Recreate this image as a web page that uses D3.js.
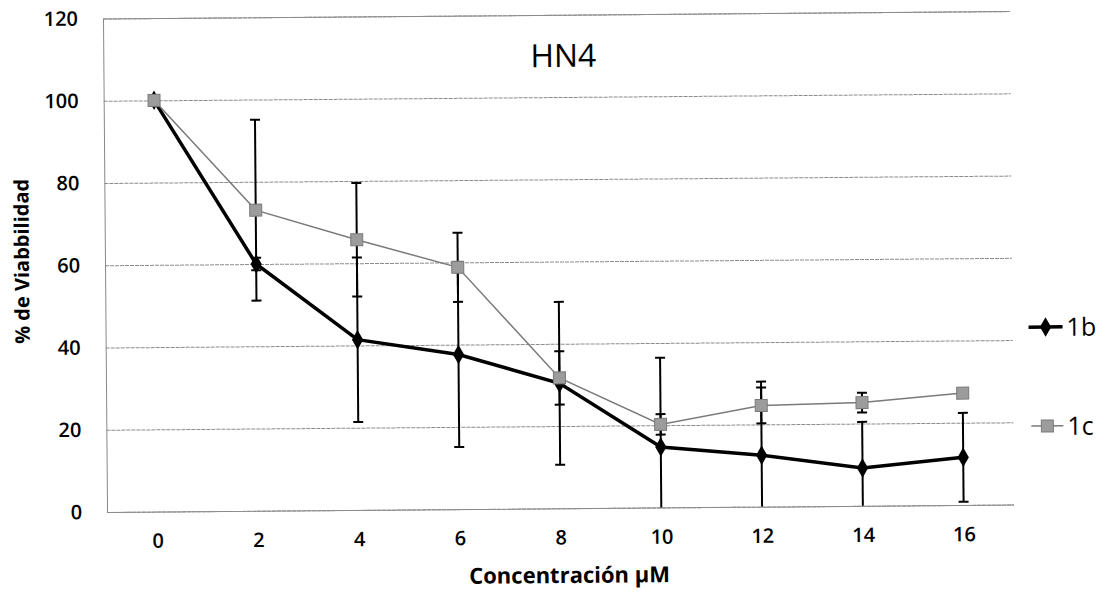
<!DOCTYPE html>
<html>
<head>
<meta charset="utf-8">
<script src="https://cdn.jsdelivr.net/npm/d3@7"></script>
<style>
  body { margin: 0; background: #fff; }
  text { font-family: "Open Sans", sans-serif; fill: #000; }
</style>
</head>
<body>
<svg id="chart" width="1106" height="595"></svg>
<script>
// values
var concentrations = ["0", "2", "4", "6", "8", "10", "12", "14", "16"];
var yTicks = [0, 20, 40, 60, 80, 100, 120];

var viab1b = [100, 60, 41.4, 37.6, 30.4, 14.7, 12.5, 9.2, 11.6];
var err1b  = [0, 1.5, 20, 22.5, 19.8, 21.7, 17.9, 11.2, 10.8];

var viab1c = [100, 73.1, 65.7, 58.8, 31.7, 20.2, 24.6, 25.1, 27.2];
var err1c  = [0, 22, 13.8, 8.4, 6.5, 2.5, 4.35, 2.4, 0.6];

var seriesNames = ["1b", "1c"];

var svg = d3.select("#chart");

// the scan is tilted a little, so the whole chart is rotated
var g = svg.append("g")
    .attr("transform", "rotate(-0.47, 557, 262)");

var plotLeft = 105, plotRight = 1012, plotTop = 14.8, plotBottom = 508.3;

var x = d3.scalePoint()
    .domain(concentrations)
    .range([plotLeft, plotRight])
    .padding(0.5);

var y = d3.scaleLinear()
    .domain([0, 120])
    .range([plotBottom, plotTop]);

// gridlines
var yAxis = d3.axisLeft(y)
    .tickValues(yTicks)
    .tickSize(-(plotRight - plotLeft))
    .tickPadding(25);

var ya = g.append("g")
    .attr("transform", "translate(" + plotLeft + ",0)")
    .call(yAxis);
ya.select(".domain")
    .attr("stroke", "#888")
    .attr("stroke-width", 1);
ya.selectAll(".tick line")
    .attr("stroke", "#8c8c8c")
    .attr("stroke-width", 1)
    .attr("stroke-dasharray", "4,1");
ya.selectAll(".tick text")
    .attr("font-size", 20)
    .attr("font-weight", 600)
    .attr("font-family", "Open Sans");

var xAxis = d3.axisBottom(x).tickSize(0).tickPadding(22);
var xa = g.append("g")
    .attr("transform", "translate(0," + plotBottom + ")")
    .call(xAxis);
xa.select(".domain").remove();
xa.selectAll(".tick text")
    .attr("font-size", 20)
    .attr("font-weight", 600)
    .attr("font-family", "Open Sans");

// titles
g.append("text")
    .attr("x", 565)
    .attr("y", 67)
    .attr("text-anchor", "middle")
    .attr("font-size", 32)
    .text("HN4");

g.append("text")
    .attr("x", 567)
    .attr("y", 583)
    .attr("text-anchor", "middle")
    .attr("font-size", 22)
    .attr("font-weight", "bold")
    .text("Concentración µM");

g.append("text")
    .attr("transform", "translate(29,257) rotate(-90)")
    .attr("text-anchor", "middle")
    .attr("font-size", 20)
    .attr("font-weight", "bold")
    .text("% de Viabbilidad");

var line = d3.line()
    .x(function(d, i) { return x(concentrations[i]); })
    .y(function(d) { return y(d); });

function errorBars(vals, errs) {
  var eb = g.append("g");
  vals.forEach(function(v, i) {
    if (errs[i] <= 0) return;
    var cx = x(concentrations[i]);
    var hi = Math.min(120, v + errs[i]);
    var lo = Math.max(0, v - errs[i]);
    eb.append("line")
        .attr("x1", cx).attr("x2", cx)
        .attr("y1", y(hi)).attr("y2", y(lo))
        .attr("stroke", "#000").attr("stroke-width", 2);
    eb.append("line")
        .attr("x1", cx - 5).attr("x2", cx + 5)
        .attr("y1", y(hi)).attr("y2", y(hi))
        .attr("stroke", "#000").attr("stroke-width", 2);
    if (v - errs[i] >= 0) {
      eb.append("line")
          .attr("x1", cx - 5).attr("x2", cx + 5)
          .attr("y1", y(lo)).attr("y2", y(lo))
          .attr("stroke", "#000").attr("stroke-width", 2);
    }
  });
}

// series 1b
errorBars(viab1b, err1b);
g.append("path")
    .datum(viab1b)
    .attr("d", line)
    .attr("fill", "none")
    .attr("stroke", "#000")
    .attr("stroke-width", 3.5);

var diamond = d3.symbol().type(d3.symbolDiamond).size(110);
g.selectAll(".m1b")
    .data(viab1b)
    .enter()
    .append("path")
    .attr("class", "m1b")
    .attr("transform", function(d, i) {
      return "translate(" + x(concentrations[i]) + "," + y(d) + ")";
    })
    .attr("d", diamond)
    .attr("fill", "#000");

// series 1c
errorBars(viab1c, err1c);
g.append("path")
    .datum(viab1c)
    .attr("d", line)
    .attr("fill", "none")
    .attr("stroke", "#7a7a7a")
    .attr("stroke-width", 1.5);

g.selectAll(".m1c")
    .data(viab1c)
    .enter()
    .append("rect")
    .attr("class", "m1c")
    .attr("x", function(d, i) { return x(concentrations[i]) - 6; })
    .attr("y", function(d) { return y(d) - 6; })
    .attr("width", 12)
    .attr("height", 12)
    .attr("fill", "#9c9c9c")
    .attr("stroke", "#7a7a7a")
    .attr("stroke-width", 1);

// legend
var legend = g.append("g").attr("transform", "translate(1028,0)");
var legY = [331, 430];

legend.append("line")
    .attr("x1", 0).attr("x2", 34)
    .attr("y1", legY[0]).attr("y2", legY[0])
    .attr("stroke", "#000").attr("stroke-width", 3.5);
legend.append("path")
    .attr("transform", "translate(17," + legY[0] + ")")
    .attr("d", diamond)
    .attr("fill", "#000");

legend.append("line")
    .attr("x1", 2).attr("x2", 34)
    .attr("y1", legY[1]).attr("y2", legY[1])
    .attr("stroke", "#7a7a7a").attr("stroke-width", 1.5);
legend.append("rect")
    .attr("x", 12).attr("y", legY[1] - 6)
    .attr("width", 12).attr("height", 12)
    .attr("fill", "#9c9c9c")
    .attr("stroke", "#7a7a7a");

legend.selectAll(".lt")
    .data(seriesNames)
    .enter()
    .append("text")
    .attr("x", 38)
    .attr("y", function(d, i) { return legY[i]; })
    .attr("dy", "0.36em")
    .attr("font-size", 25)
    .text(function(d) { return d; });
</script>
</body>
</html>
